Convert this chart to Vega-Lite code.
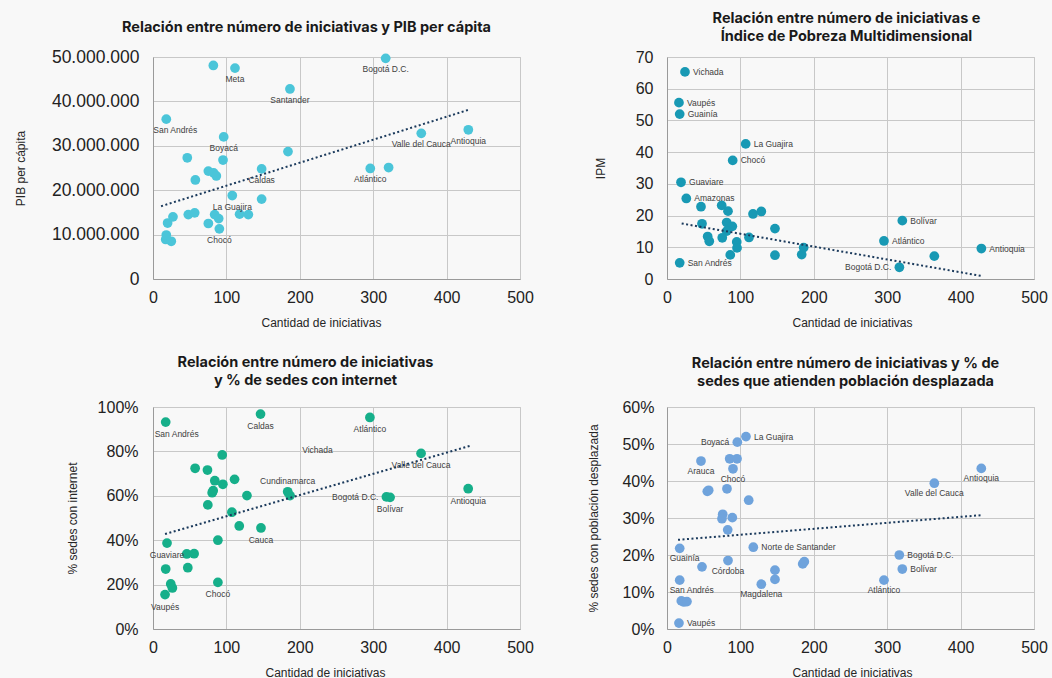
{
  "$schema": "https://vega.github.io/schema/vega-lite/v6.json",
  "background": "#f8f8f8",
  "padding": {"left": 13, "top": 10, "right": 20, "bottom": 5},
  "config": {
    "view": {"stroke": "#c8c8c8", "strokeWidth": 1},
    "axis": {"gridColor": "#c8c8c8", "gridWidth": 1, "domainColor": "#9a9a9a", "ticks": false, "labelFont": "Liberation Sans", "labelFontSize": 16, "labelColor": "#222222", "titleFont": "Liberation Sans", "titleFontSize": 12, "titleFontWeight": "normal", "titleColor": "#262626", "labelOverlap": false},
    "axisX": {"labelFlush": false, "labelPadding": 10, "minExtent": 28, "maxExtent": 28, "titlePadding": 10},
    "title": {"font": "Inter", "fontSize": 14.5, "fontWeight": "bold", "color": "#1a1a1a", "lineHeight": 17.5, "frame": "group"},
    "text": {"font": "Liberation Sans", "fontSize": 8.5, "color": "#404040", "baseline": "middle"}
  },
  "datasets": {
    "p1": [
      {"departamento": "Vaupés", "iniciativas": 17.3, "pib": 8900000},
      {"departamento": "Guainía", "iniciativas": 18.1, "pib": 9900000},
      {"departamento": "San Andrés", "iniciativas": 18.1, "pib": 36000000},
      {"departamento": "Guaviare", "iniciativas": 19.9, "pib": 12600000},
      {"departamento": "Vichada", "iniciativas": 24.9, "pib": 8500000},
      {"departamento": "Amazonas", "iniciativas": 27.2, "pib": 14000000},
      {"departamento": "Arauca", "iniciativas": 46.7, "pib": 27300000},
      {"departamento": "Putumayo", "iniciativas": 48.1, "pib": 14500000},
      {"departamento": "Caquetá", "iniciativas": 56.8, "pib": 14900000},
      {"departamento": "Quindío", "iniciativas": 57.7, "pib": 22300000},
      {"departamento": "Risaralda", "iniciativas": 75.4, "pib": 24300000},
      {"departamento": "Sucre", "iniciativas": 75.4, "pib": 12500000},
      {"departamento": "Casanare", "iniciativas": 82.2, "pib": 48100000},
      {"departamento": "Tolima", "iniciativas": 82.6, "pib": 23900000},
      {"departamento": "Córdoba", "iniciativas": 84.0, "pib": 14500000},
      {"departamento": "Huila", "iniciativas": 86.3, "pib": 23200000},
      {"departamento": "Nariño", "iniciativas": 89.5, "pib": 13600000},
      {"departamento": "Chocó", "iniciativas": 90.4, "pib": 11300000},
      {"departamento": "Cesar", "iniciativas": 95.4, "pib": 26800000},
      {"departamento": "Boyacá", "iniciativas": 96.3, "pib": 32000000},
      {"departamento": "La Guajira", "iniciativas": 108.0, "pib": 18800000},
      {"departamento": "Meta", "iniciativas": 111.7, "pib": 47500000},
      {"departamento": "Norte de Santander", "iniciativas": 118.0, "pib": 14600000},
      {"departamento": "Magdalena", "iniciativas": 129.9, "pib": 14500000},
      {"departamento": "Caldas", "iniciativas": 148.0, "pib": 24800000},
      {"departamento": "Cauca", "iniciativas": 148.0, "pib": 18000000},
      {"departamento": "Cundinamarca", "iniciativas": 183.9, "pib": 28700000},
      {"departamento": "Santander", "iniciativas": 186.6, "pib": 42800000},
      {"departamento": "Atlántico", "iniciativas": 296.0, "pib": 24900000},
      {"departamento": "Bogotá D.C.", "iniciativas": 317.0, "pib": 49700000},
      {"departamento": "Bolívar", "iniciativas": 321.0, "pib": 25100000},
      {"departamento": "Valle del Cauca", "iniciativas": 365.5, "pib": 32800000},
      {"departamento": "Antioquia", "iniciativas": 429.6, "pib": 33600000}
    ],
    "t1": [
      {"iniciativas": 11, "pib": 16400000},
      {"iniciativas": 430, "pib": 38100000}
    ],
    "p2": [
      {"departamento": "Vichada", "iniciativas": 24.5, "ipm": 65.3},
      {"departamento": "Vaupés", "iniciativas": 16.3, "ipm": 55.6},
      {"departamento": "Guainía", "iniciativas": 17.3, "ipm": 52.0},
      {"departamento": "La Guajira", "iniciativas": 107.2, "ipm": 42.6},
      {"departamento": "Chocó", "iniciativas": 89.5, "ipm": 37.4},
      {"departamento": "Guaviare", "iniciativas": 19.1, "ipm": 30.5},
      {"departamento": "Amazonas", "iniciativas": 26.3, "ipm": 25.4},
      {"departamento": "Putumayo", "iniciativas": 46.3, "ipm": 22.8},
      {"departamento": "Sucre", "iniciativas": 74.5, "ipm": 23.2},
      {"departamento": "Córdoba", "iniciativas": 83.1, "ipm": 21.4},
      {"departamento": "Norte de Santander", "iniciativas": 117.2, "ipm": 20.5},
      {"departamento": "Magdalena", "iniciativas": 128.5, "ipm": 21.3},
      {"departamento": "Arauca", "iniciativas": 47.7, "ipm": 17.4},
      {"departamento": "Cesar", "iniciativas": 81.3, "ipm": 17.8},
      {"departamento": "Nariño", "iniciativas": 89.0, "ipm": 16.6},
      {"departamento": "Huila", "iniciativas": 81.3, "ipm": 15.1},
      {"departamento": "Cauca", "iniciativas": 147.1, "ipm": 15.9},
      {"departamento": "Caquetá", "iniciativas": 55.4, "ipm": 13.4},
      {"departamento": "Casanare", "iniciativas": 57.6, "ipm": 11.9},
      {"departamento": "Tolima", "iniciativas": 75.3, "ipm": 13.0},
      {"departamento": "Boyacá", "iniciativas": 95.0, "ipm": 11.7},
      {"departamento": "Quindío", "iniciativas": 95.4, "ipm": 9.8},
      {"departamento": "Meta", "iniciativas": 111.7, "ipm": 13.1},
      {"departamento": "Risaralda", "iniciativas": 86.2, "ipm": 7.6},
      {"departamento": "Caldas", "iniciativas": 147.1, "ipm": 7.5},
      {"departamento": "Santander", "iniciativas": 183.5, "ipm": 7.7},
      {"departamento": "Cundinamarca", "iniciativas": 186.2, "ipm": 9.9},
      {"departamento": "San Andrés", "iniciativas": 17.3, "ipm": 5.1},
      {"departamento": "Bolívar", "iniciativas": 320.6, "ipm": 18.4},
      {"departamento": "Atlántico", "iniciativas": 295.6, "ipm": 12.0},
      {"departamento": "Valle del Cauca", "iniciativas": 364.2, "ipm": 7.2},
      {"departamento": "Antioquia", "iniciativas": 428.3, "ipm": 9.6},
      {"departamento": "Bogotá D.C.", "iniciativas": 316.6, "ipm": 3.7}
    ],
    "t2": [
      {"iniciativas": 20, "ipm": 17.5},
      {"iniciativas": 430, "ipm": 0.9}
    ],
    "p3": [
      {"departamento": "San Andrés", "iniciativas": 17.3, "internet": 0.932},
      {"departamento": "Caldas", "iniciativas": 146.5, "internet": 0.968},
      {"departamento": "Boyacá", "iniciativas": 94.3, "internet": 0.784},
      {"departamento": "Quindío", "iniciativas": 57.4, "internet": 0.724},
      {"departamento": "Risaralda", "iniciativas": 74.2, "internet": 0.716},
      {"departamento": "Tolima", "iniciativas": 84.2, "internet": 0.668},
      {"departamento": "Huila", "iniciativas": 95.2, "internet": 0.652},
      {"departamento": "Meta", "iniciativas": 111.1, "internet": 0.674},
      {"departamento": "Córdoba", "iniciativas": 82.0, "internet": 0.623},
      {"departamento": "Sucre", "iniciativas": 80.6, "internet": 0.614},
      {"departamento": "Magdalena", "iniciativas": 128.0, "internet": 0.601},
      {"departamento": "Cesar", "iniciativas": 74.7, "internet": 0.559},
      {"departamento": "La Guajira", "iniciativas": 107.5, "internet": 0.526},
      {"departamento": "Norte de Santander", "iniciativas": 117.5, "internet": 0.464},
      {"departamento": "Cauca", "iniciativas": 147.1, "internet": 0.455},
      {"departamento": "Nariño", "iniciativas": 88.4, "internet": 0.400},
      {"departamento": "Guaviare", "iniciativas": 19.1, "internet": 0.387},
      {"departamento": "Putumayo", "iniciativas": 46.0, "internet": 0.338},
      {"departamento": "Caquetá", "iniciativas": 56.0, "internet": 0.339},
      {"departamento": "Guainía", "iniciativas": 17.3, "internet": 0.270},
      {"departamento": "Arauca", "iniciativas": 47.4, "internet": 0.276},
      {"departamento": "Amazonas", "iniciativas": 24.2, "internet": 0.203},
      {"departamento": "Casanare", "iniciativas": 26.4, "internet": 0.185},
      {"departamento": "Vaupés", "iniciativas": 16.4, "internet": 0.155},
      {"departamento": "Chocó", "iniciativas": 88.4, "internet": 0.210},
      {"departamento": "Cundinamarca", "iniciativas": 183.5, "internet": 0.618},
      {"departamento": "Santander", "iniciativas": 186.7, "internet": 0.601},
      {"departamento": "Atlántico", "iniciativas": 295.5, "internet": 0.953},
      {"departamento": "Valle del Cauca", "iniciativas": 365.2, "internet": 0.791},
      {"departamento": "Antioquia", "iniciativas": 429.4, "internet": 0.632},
      {"departamento": "Bogotá D.C.", "iniciativas": 318.0, "internet": 0.595},
      {"departamento": "Bolívar", "iniciativas": 323.0, "internet": 0.593},
      {"departamento": "Vichada", "iniciativas": 224.0, "internet": 0.86}
    ],
    "t3": [
      {"iniciativas": 16.4, "internet": 0.428},
      {"iniciativas": 432.8, "internet": 0.826}
    ],
    "p4": [
      {"departamento": "La Guajira", "iniciativas": 107.6, "desplazada": 0.520},
      {"departamento": "Boyacá", "iniciativas": 95.8, "desplazada": 0.505},
      {"departamento": "Tolima", "iniciativas": 85.4, "desplazada": 0.460},
      {"departamento": "Huila", "iniciativas": 95.4, "desplazada": 0.460},
      {"departamento": "Arauca", "iniciativas": 46.3, "desplazada": 0.454},
      {"departamento": "Chocó", "iniciativas": 89.9, "desplazada": 0.433},
      {"departamento": "Caquetá", "iniciativas": 56.8, "desplazada": 0.375},
      {"departamento": "Putumayo", "iniciativas": 54.9, "desplazada": 0.372},
      {"departamento": "Cesar", "iniciativas": 81.7, "desplazada": 0.379},
      {"departamento": "Meta", "iniciativas": 111.3, "desplazada": 0.348},
      {"departamento": "Sucre", "iniciativas": 75.9, "desplazada": 0.310},
      {"departamento": "Risaralda", "iniciativas": 74.9, "desplazada": 0.298},
      {"departamento": "Nariño", "iniciativas": 89.0, "desplazada": 0.301},
      {"departamento": "Quindío", "iniciativas": 82.7, "desplazada": 0.268},
      {"departamento": "Guainía", "iniciativas": 17.3, "desplazada": 0.218},
      {"departamento": "Norte de Santander", "iniciativas": 117.6, "desplazada": 0.221},
      {"departamento": "Córdoba", "iniciativas": 83.1, "desplazada": 0.185},
      {"departamento": "Casanare", "iniciativas": 47.7, "desplazada": 0.168},
      {"departamento": "Caldas", "iniciativas": 147.1, "desplazada": 0.159},
      {"departamento": "Cauca", "iniciativas": 147.1, "desplazada": 0.134},
      {"departamento": "Magdalena", "iniciativas": 128.5, "desplazada": 0.121},
      {"departamento": "San Andrés", "iniciativas": 17.3, "desplazada": 0.132},
      {"departamento": "Cundinamarca", "iniciativas": 184.9, "desplazada": 0.176},
      {"departamento": "Santander", "iniciativas": 187.1, "desplazada": 0.182},
      {"departamento": "Guaviare", "iniciativas": 19.5, "desplazada": 0.076},
      {"departamento": "Amazonas", "iniciativas": 23.0, "desplazada": 0.073},
      {"departamento": "Vichada", "iniciativas": 27.2, "desplazada": 0.074},
      {"departamento": "Vaupés", "iniciativas": 16.3, "desplazada": 0.016},
      {"departamento": "Antioquia", "iniciativas": 428.2, "desplazada": 0.434},
      {"departamento": "Valle del Cauca", "iniciativas": 364.2, "desplazada": 0.394},
      {"departamento": "Bogotá D.C.", "iniciativas": 316.5, "desplazada": 0.200},
      {"departamento": "Bolívar", "iniciativas": 320.6, "desplazada": 0.162},
      {"departamento": "Atlántico", "iniciativas": 295.6, "desplazada": 0.132}
    ],
    "t4": [
      {"iniciativas": 15, "desplazada": 0.241},
      {"iniciativas": 430.5, "desplazada": 0.308}
    ]
  },
  "columns": 2,
  "spacing": {"row": 128, "column": 147},
  "bounds": "flush",
  "concat": [
    {
      "width": 367, "height": 222,
      "title": {"text": "Relación entre número de iniciativas y PIB per cápita", "dx": -30, "offset": 13},
      "data": {"name": "p1"},
      "encoding": {
        "x": {"field": "iniciativas", "type": "quantitative", "scale": {"domain": [0, 500], "nice": false}, "axis": {"title": "Cantidad de iniciativas", "titleX": 168, "values": [0, 100, 200, 300, 400, 500]}},
        "y": {"field": "pib", "type": "quantitative", "scale": {"domain": [0, 50000000], "nice": false}, "axis": {"title": "PIB per cápita", "values": [0, 10000000, 20000000, 30000000, 40000000, 50000000], "labelExpr": "replace(replace(format(datum.value, ','), ',', '.'), ',', '.')", "labelFontSize": 17.5, "labelPadding": 14, "minExtent": 102, "maxExtent": 102, "titlePadding": 24}}
      },
      "layer": [
        {"mark": {"type": "circle", "size": 95, "opacity": 1, "color": "#4bc5d9"}},
        {"transform": [{"filter": {"field": "departamento", "oneOf": ["Meta", "Santander", "Boyacá", "Caldas", "La Guajira", "Chocó", "Bogotá D.C.", "Valle del Cauca", "Antioquia", "Atlántico"]}}],
         "mark": {"type": "text", "dy": 11, "align": "center"}, "encoding": {"text": {"field": "departamento"}}},
        {"transform": [{"filter": {"field": "departamento", "equal": "San Andrés"}}],
         "mark": {"type": "text", "dy": 11, "dx": -13, "align": "left"}, "encoding": {"text": {"field": "departamento"}}},
        {"data": {"name": "t1"}, "mark": {"type": "line", "color": "#1b3a5c", "strokeWidth": 2, "strokeDash": [2, 2.5]}, "encoding": {}}
      ]
    },
    {
      "width": 367, "height": 222,
      "title": {"text": ["Relación entre número de iniciativas e", "Índice de Pobreza Multidimensional"], "dx": -4, "offset": 5},
      "data": {"name": "p2"},
      "encoding": {
        "x": {"field": "iniciativas", "type": "quantitative", "scale": {"domain": [0, 500], "nice": false}, "axis": {"title": "Cantidad de iniciativas", "titleX": 185, "values": [0, 100, 200, 300, 400, 500]}},
        "y": {"field": "ipm", "type": "quantitative", "scale": {"domain": [0, 70], "nice": false}, "axis": {"title": "IPM", "values": [0, 10, 20, 30, 40, 50, 60, 70], "labelPadding": 14, "minExtent": 31, "maxExtent": 31, "titlePadding": 29}}
      },
      "layer": [
        {"mark": {"type": "circle", "size": 95, "opacity": 1, "color": "#1899b4"}},
        {"transform": [{"filter": {"field": "departamento", "oneOf": ["Vichada", "Vaupés", "Guainía", "La Guajira", "Chocó", "Guaviare", "Amazonas", "San Andrés", "Bolívar", "Atlántico", "Antioquia"]}}],
         "mark": {"type": "text", "dx": 8, "align": "left"}, "encoding": {"text": {"field": "departamento"}}},
        {"transform": [{"filter": {"field": "departamento", "equal": "Bogotá D.C."}}],
         "mark": {"type": "text", "dx": -8, "align": "right"}, "encoding": {"text": {"field": "departamento"}}},
        {"data": {"name": "t2"}, "mark": {"type": "line", "color": "#1b3a5c", "strokeWidth": 2, "strokeDash": [2, 2.5]}, "encoding": {}}
      ]
    },
    {
      "width": 367, "height": 222,
      "title": {"text": ["Relación entre número de iniciativas", "y % de sedes con internet"], "dx": -31, "offset": 11},
      "data": {"name": "p3"},
      "encoding": {
        "x": {"field": "iniciativas", "type": "quantitative", "scale": {"domain": [0, 500], "nice": false}, "axis": {"title": "Cantidad de iniciativas", "titleX": 172, "values": [0, 100, 200, 300, 400, 500]}},
        "y": {"field": "internet", "type": "quantitative", "scale": {"domain": [0, 1], "nice": false}, "axis": {"title": "% sedes con internet", "values": [0, 0.2, 0.4, 0.6, 0.8, 1], "format": ".0%", "labelPadding": 15, "minExtent": 56, "maxExtent": 56, "titlePadding": 18}}
      },
      "layer": [
        {"transform": [{"filter": {"not": {"field": "departamento", "equal": "Vichada"}}}],
         "mark": {"type": "circle", "size": 95, "opacity": 1, "color": "#16af8a"}},
        {"transform": [{"filter": {"field": "departamento", "oneOf": ["Caldas", "Atlántico", "Vichada", "Valle del Cauca", "Bolívar", "Antioquia", "Cauca", "Guaviare", "Chocó", "Vaupés"]}}],
         "mark": {"type": "text", "dy": 12, "align": "center"}, "encoding": {"text": {"field": "departamento"}}},
        {"transform": [{"filter": {"field": "departamento", "equal": "San Andrés"}}],
         "mark": {"type": "text", "dy": 12, "dx": -11, "align": "left"}, "encoding": {"text": {"field": "departamento"}}},
        {"transform": [{"filter": {"field": "departamento", "equal": "Cundinamarca"}}],
         "mark": {"type": "text", "dy": -11, "align": "center"}, "encoding": {"text": {"field": "departamento"}}},
        {"transform": [{"filter": {"field": "departamento", "equal": "Bogotá D.C."}}],
         "mark": {"type": "text", "dx": -8, "align": "right"}, "encoding": {"text": {"field": "departamento"}}},
        {"data": {"name": "t3"}, "mark": {"type": "line", "color": "#1b3a5c", "strokeWidth": 2, "strokeDash": [2, 2.5]}, "encoding": {}}
      ]
    },
    {
      "width": 367, "height": 222,
      "title": {"text": ["Relación entre número de iniciativas y % de", "sedes que atienden población desplazada"], "dx": -5, "offset": 10},
      "data": {"name": "p4"},
      "encoding": {
        "x": {"field": "iniciativas", "type": "quantitative", "scale": {"domain": [0, 500], "nice": false}, "axis": {"title": "Cantidad de iniciativas", "titleX": 185, "values": [0, 100, 200, 300, 400, 500]}},
        "y": {"field": "desplazada", "type": "quantitative", "scale": {"domain": [0, 0.6], "nice": false}, "axis": {"title": "% sedes con población desplazada", "values": [0, 0.1, 0.2, 0.3, 0.4, 0.5, 0.6], "format": ".0%", "labelPadding": 13, "minExtent": 46, "maxExtent": 46, "titlePadding": 21}}
      },
      "layer": [
        {"mark": {"type": "circle", "size": 95, "opacity": 1, "color": "#6fa3dc"}},
        {"transform": [{"filter": {"field": "departamento", "oneOf": ["Arauca", "Chocó", "Córdoba", "Magdalena", "Antioquia", "Valle del Cauca", "Atlántico"]}}],
         "mark": {"type": "text", "dy": 10, "align": "center"}, "encoding": {"text": {"field": "departamento"}}},
        {"transform": [{"filter": {"field": "departamento", "oneOf": ["San Andrés", "Guainía"]}}],
         "mark": {"type": "text", "dy": 10, "dx": -10, "align": "left"}, "encoding": {"text": {"field": "departamento"}}},
        {"transform": [{"filter": {"field": "departamento", "oneOf": ["La Guajira", "Norte de Santander", "Vaupés", "Bogotá D.C.", "Bolívar"]}}],
         "mark": {"type": "text", "dx": 8, "align": "left"}, "encoding": {"text": {"field": "departamento"}}},
        {"transform": [{"filter": {"field": "departamento", "equal": "Boyacá"}}],
         "mark": {"type": "text", "dx": -8, "align": "right"}, "encoding": {"text": {"field": "departamento"}}},
        {"data": {"name": "t4"}, "mark": {"type": "line", "color": "#1b3a5c", "strokeWidth": 2, "strokeDash": [2, 2.5]}, "encoding": {}}
      ]
    }
  ]
}
